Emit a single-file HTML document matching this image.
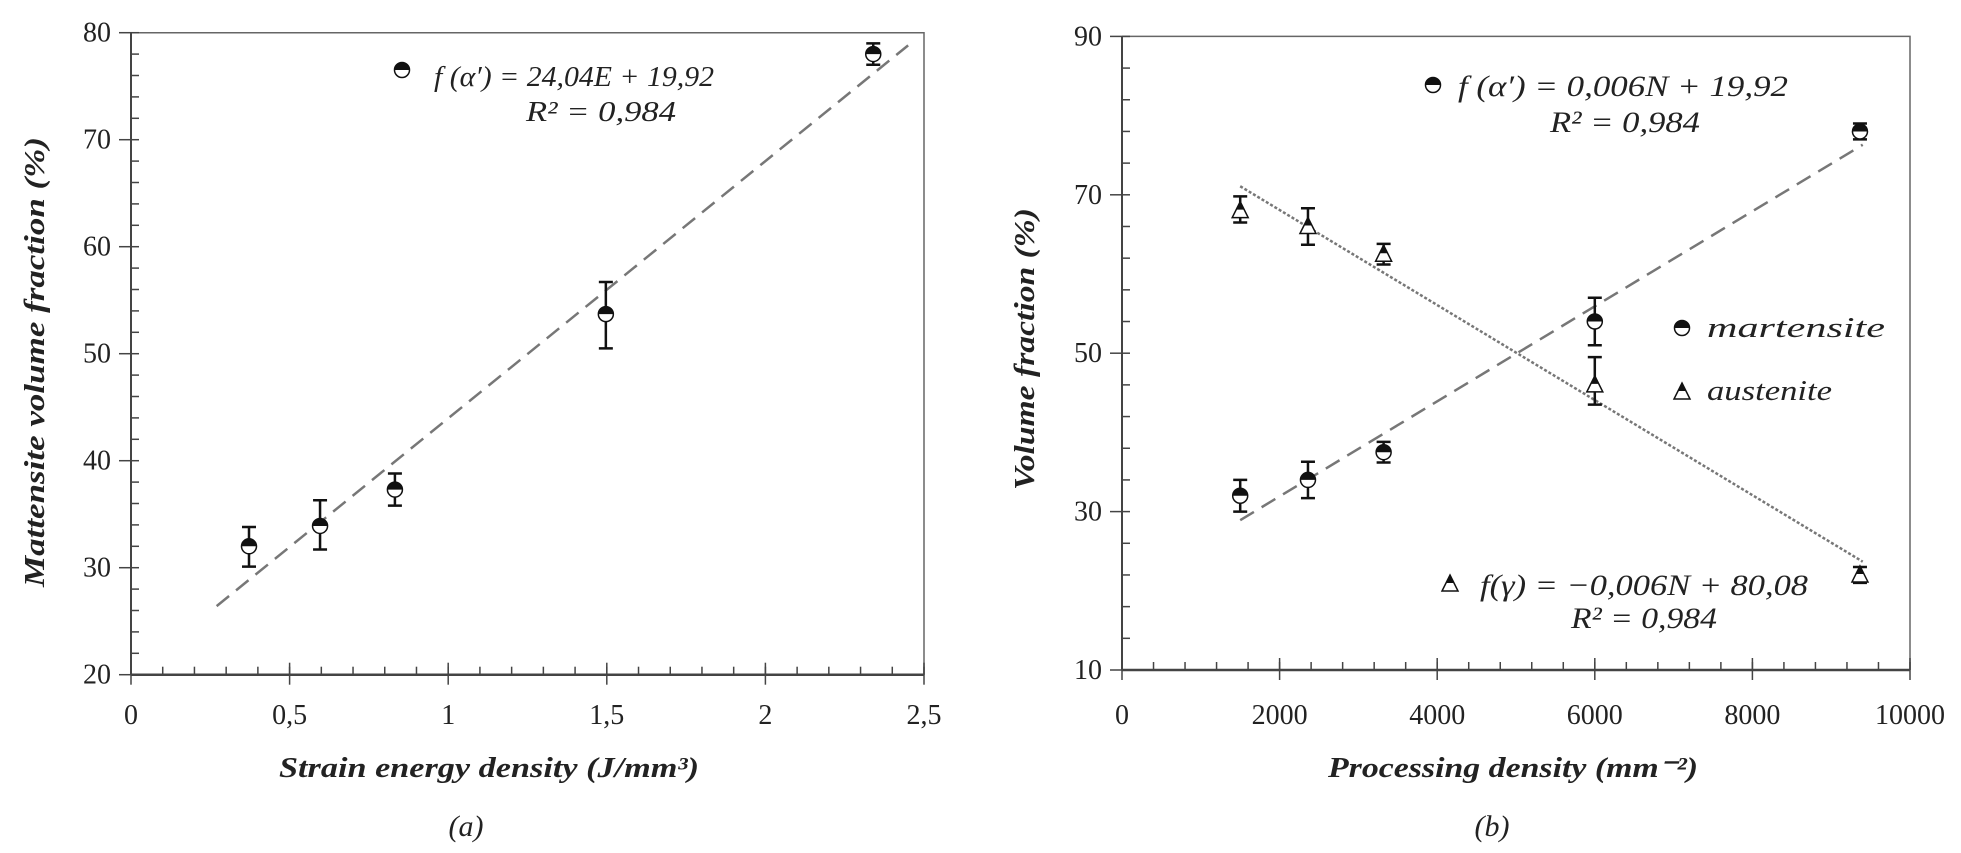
<!DOCTYPE html>
<html><head><meta charset="utf-8"><style>
html,body{margin:0;padding:0;background:#fff;}
svg{display:block;font-family:"Liberation Serif",serif;}
</style></head><body>
<svg id="fig" width="1961" height="853" viewBox="0 0 1961 853">
<defs>
<clipPath id="topHalf"><rect x="-20" y="-20" width="40" height="20"/></clipPath>
</defs>
<g id="chartA"></g>
<g id="chartB"></g>
</svg>
<script>
// ---- Chart (a) data ----
const aX = [0.372, 0.596, 0.832, 1.497, 2.34];
const aY = [32.0, 33.9, 37.3, 53.7, 78.0];
const aErrLo = [30.1, 31.7, 35.8, 50.5, 77.0];
const aErrHi = [33.8, 36.3, 38.8, 56.7, 79.0];
const aFitSlope = 24.04;
const aFitIntercept = 19.92;
const aFitRange = [0.27, 2.45];
const aXTicks = [0, 0.5, 1, 1.5, 2, 2.5];
const aXTickLabels = ["0", "0,5", "1", "1,5", "2", "2,5"];
const aYTicks = [20, 30, 40, 50, 60, 70, 80];

// ---- Chart (b) data ----
const bN = [1500, 2360, 3320, 6000, 9365];
const bMart = [32.0, 34.0, 37.5, 54.0, 78.0];
const bMartLo = [30.0, 31.7, 36.2, 51.0, 77.0];
const bMartHi = [34.0, 36.3, 38.8, 57.0, 79.0];
const bAust = [68.0, 66.0, 62.5, 46.0, 22.0];
const bAustLo = [66.5, 63.7, 61.2, 43.5, 21.0];
const bAustHi = [69.8, 68.3, 63.8, 49.5, 23.0];
const bMartSlope = 0.006, bMartIntercept = 19.92;
const bAustSlope = -0.006, bAustIntercept = 80.08;
const bFitRange = [1500, 9400];
const bXTicks = [0, 2000, 4000, 6000, 8000, 10000];
const bYTicks = [10, 30, 50, 70, 90];

const NS = "http://www.w3.org/2000/svg";
function mk(parent, tag, attrs, text) {
  const e = document.createElementNS(NS, tag);
  for (const k in attrs) e.setAttribute(k, attrs[k]);
  if (text !== undefined) e.textContent = text;
  parent.appendChild(e);
  return e;
}

// axis functions
const ax = v => 131 + v * 317.2;
const ay = v => 674.7 - (v - 20) * 10.7;
const bx = v => 1122 + v * 0.0788;
const by = v => 670 - (v - 10) * 7.92;

function circleMarker(g, x, y) {
  const m = mk(g, "g", {transform: `translate(${x},${y})`});
  
  
  mk(m, "circle", {cx: 0, cy: 0, r: 7.5, fill: "#fff", stroke: "#111", "stroke-width": 1.5});
  mk(m, "path", {d: "M-7.5 0 A7.5 7.5 0 0 1 7.5 0 Z", fill: "#111"});
}
function triMarker(g, x, y) {
  const m = mk(g, "g", {transform: `translate(${x},${y})`});
  
  
  mk(m, "path", {d: "M0 -9 L8 7 L-8 7 Z", fill: "#fff", stroke: "#111", "stroke-width": 1.5});
  mk(m, "path", {d: "M0 -9 L4 -1 L-4 -1 Z", fill: "#111"});
}
function errBar(g, x, y1, y2) {
  const e = mk(g, "path", {d: `M${x} ${y1} V${y2} M${x-7} ${y1} H${x+7} M${x-7} ${y2} H${x+7}`, stroke: "#111", "stroke-width": 2.5, fill: "none"});
  
  
}

// ===== Chart A =====
(function(){
  const g = document.getElementById("chartA");
  const L = ax(0), R = ax(2.5), T = ay(80), B = ay(20);
  const frame = mk(g, "path", {d: `M${L} ${T} H${R} V${B}`, stroke: "#666", "stroke-width": 1.5, fill: "none"});
  
  
  const yAxis = mk(g, "line", {x1: L, y1: T, x2: L, y2: B, stroke: "#444", "stroke-width": 2});
  
  
  const xAxis = mk(g, "line", {x1: L, y1: B, x2: R, y2: B, stroke: "#444", "stroke-width": 2.5});
  
  
  // minor ticks
  for (let v = 20; v <= 80.01; v += 2) mk(g, "line", {x1: L, y1: ay(v), x2: L + 8, y2: ay(v), stroke: "#444", "stroke-width": 1.5});
  for (let v = 0; v <= 2.501; v += 0.1) mk(g, "line", {x1: ax(v), y1: B, x2: ax(v), y2: B - 8, stroke: "#444", "stroke-width": 1.5});
  aYTicks.forEach(v => {
    mk(g, "line", {x1: L - 12, y1: ay(v), x2: L, y2: ay(v), stroke: "#444", "stroke-width": 1.5});
    const t = mk(g, "text", {x: L - 20, y: ay(v) + 9, "text-anchor": "end", "font-size": 28, fill: "#222"}, String(v));
    
    
  });
  aXTicks.forEach((v, i) => {
    mk(g, "line", {x1: ax(v), y1: B - 12, x2: ax(v), y2: B + 10, stroke: "#444", "stroke-width": 1.5});
    const t = mk(g, "text", {x: ax(v), y: 724, "text-anchor": "middle", "font-size": 28, fill: "#222"}, aXTickLabels[i]);
    
    
  });
  const fit = mk(g, "line", {x1: ax(aFitRange[0]), y1: ay(aFitSlope*aFitRange[0]+aFitIntercept), x2: ax(aFitRange[1]), y2: ay(aFitSlope*aFitRange[1]+aFitIntercept), stroke: "#777", "stroke-width": 2.5, "stroke-dasharray": "16 9"});
  
  
  aX.forEach((x, i) => {
    errBar(g, ax(x), ay(aErrLo[i]), ay(aErrHi[i]));
    circleMarker(g, ax(x), ay(aY[i]));
  });
  circleMarker(g, 402, 70);
  const eq = mk(g, "text", {x: 434, y: 86, "font-size": 29, "font-style": "italic", fill: "#222", textLength: 280, lengthAdjust: "spacingAndGlyphs"}, "f (α′) = 24,04E + 19,92");
  
  
  const r2 = mk(g, "text", {x: 526, y: 121, "font-size": 29, "font-style": "italic", fill: "#222", textLength: 150, lengthAdjust: "spacingAndGlyphs"}, "R² = 0,984");
  
  
  const xt = mk(g, "text", {x: 489, y: 777, "text-anchor": "middle", "font-size": 29, "font-style": "italic", "font-weight": "bold", fill: "#222", textLength: 420, lengthAdjust: "spacingAndGlyphs"}, "Strain energy density (J/mm³)");
  
  
  const yt = mk(g, "text", {x: 0, y: 0, transform: "translate(44,362) rotate(-90)", "text-anchor": "middle", "font-size": 29, "font-style": "italic", "font-weight": "bold", fill: "#222", textLength: 450, lengthAdjust: "spacingAndGlyphs"}, "Mattensite volume fraction (%)");
  
  
  const cap = mk(g, "text", {x: 466, y: 836, "text-anchor": "middle", "font-size": 30, "font-style": "italic", fill: "#222"}, "(a)");
  
  
})();

// ===== Chart B =====
(function(){
  const g = document.getElementById("chartB");
  const L = bx(0), R = bx(10000), T = by(90), B = by(10);
  const frame = mk(g, "path", {d: `M${L} ${T} H${R} V${B}`, stroke: "#666", "stroke-width": 1.5, fill: "none"});
  
  
  const yAxis = mk(g, "line", {x1: L, y1: T, x2: L, y2: B, stroke: "#444", "stroke-width": 2});
  
  
  const xAxis = mk(g, "line", {x1: L, y1: B, x2: R, y2: B, stroke: "#444", "stroke-width": 2.5});
  
  
  for (let v = 10; v <= 90.01; v += 4) mk(g, "line", {x1: L, y1: by(v), x2: L + 8, y2: by(v), stroke: "#444", "stroke-width": 1.5});
  for (let v = 0; v <= 10000.1; v += 400) mk(g, "line", {x1: bx(v), y1: B, x2: bx(v), y2: B - 8, stroke: "#444", "stroke-width": 1.5});
  bYTicks.forEach(v => {
    mk(g, "line", {x1: L - 12, y1: by(v), x2: L, y2: by(v), stroke: "#444", "stroke-width": 1.5});
    const t = mk(g, "text", {x: L - 20, y: by(v) + 9, "text-anchor": "end", "font-size": 28, fill: "#222"}, String(v));
    
    
  });
  bXTicks.forEach(v => {
    mk(g, "line", {x1: bx(v), y1: B - 12, x2: bx(v), y2: B + 10, stroke: "#444", "stroke-width": 1.5});
    const t = mk(g, "text", {x: bx(v), y: 724, "text-anchor": "middle", "font-size": 28, fill: "#222"}, String(v));
    
    
  });
  const f1 = mk(g, "line", {x1: bx(bFitRange[0]), y1: by(bMartSlope*bFitRange[0]+bMartIntercept), x2: bx(bFitRange[1]), y2: by(bMartSlope*bFitRange[1]+bMartIntercept), stroke: "#777", "stroke-width": 2.5, "stroke-dasharray": "16 9"});
  
  
  const f2 = mk(g, "line", {x1: bx(bFitRange[0]), y1: by(bAustSlope*bFitRange[0]+bAustIntercept), x2: bx(bFitRange[1]), y2: by(bAustSlope*bFitRange[1]+bAustIntercept), stroke: "#777", "stroke-width": 2.5, "stroke-dasharray": "3 2"});
  
  
  bN.forEach((n, i) => {
    errBar(g, bx(n), by(bMartLo[i]), by(bMartHi[i]));
    circleMarker(g, bx(n), by(bMart[i]));
    errBar(g, bx(n), by(bAustLo[i]), by(bAustHi[i]));
    triMarker(g, bx(n), by(bAust[i]));
  });
  circleMarker(g, 1433, 85);
  const eq1 = mk(g, "text", {x: 1458, y: 96, "font-size": 30, "font-style": "italic", fill: "#222", textLength: 330, lengthAdjust: "spacingAndGlyphs"}, "f (α′) = 0,006N + 19,92");
  
  
  const r1 = mk(g, "text", {x: 1550, y: 132, "font-size": 30, "font-style": "italic", fill: "#222", textLength: 150, lengthAdjust: "spacingAndGlyphs"}, "R² = 0,984");
  
  
  circleMarker(g, 1682, 328);
  const l1 = mk(g, "text", {x: 1707, y: 337, "font-size": 29, "font-style": "italic", fill: "#222", textLength: 178, lengthAdjust: "spacingAndGlyphs"}, "martensite");
  
  
  triMarker(g, 1682, 392);
  const l2 = mk(g, "text", {x: 1707, y: 400, "font-size": 29, "font-style": "italic", fill: "#222", textLength: 125, lengthAdjust: "spacingAndGlyphs"}, "austenite");
  
  
  triMarker(g, 1450, 584);
  const eq2 = mk(g, "text", {x: 1480, y: 595, "font-size": 30, "font-style": "italic", fill: "#222", textLength: 328, lengthAdjust: "spacingAndGlyphs"}, "f(γ) = −0,006N + 80,08");
  
  
  const r2 = mk(g, "text", {x: 1571, y: 628, "font-size": 30, "font-style": "italic", fill: "#222", textLength: 146, lengthAdjust: "spacingAndGlyphs"}, "R² = 0,984");
  
  
  const xt = mk(g, "text", {x: 1513, y: 777, "text-anchor": "middle", "font-size": 29, "font-style": "italic", "font-weight": "bold", fill: "#222", textLength: 370, lengthAdjust: "spacingAndGlyphs"}, "Processing density (mm⁻²)");
  
  
  const yt = mk(g, "text", {x: 0, y: 0, transform: "translate(1034,349) rotate(-90)", "text-anchor": "middle", "font-size": 29, "font-style": "italic", "font-weight": "bold", fill: "#222", textLength: 282, lengthAdjust: "spacingAndGlyphs"}, "Volume fraction (%)");
  
  
  const cap = mk(g, "text", {x: 1492, y: 836, "text-anchor": "middle", "font-size": 30, "font-style": "italic", fill: "#222"}, "(b)");
  
  
})();
</script>
</body></html>
